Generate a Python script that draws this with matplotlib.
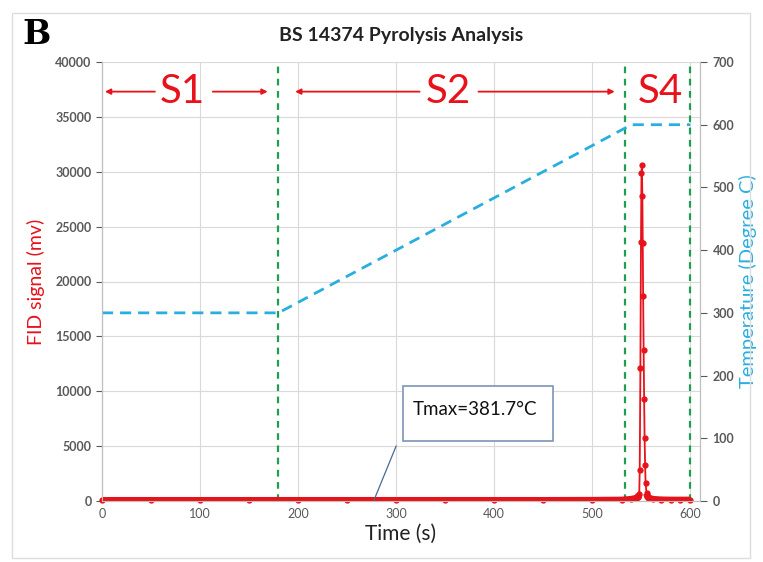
import matplotlib
matplotlib.use("Agg")
import matplotlib.pyplot as plt
from matplotlib.patches import Rectangle
import numpy as np

# ---- data ----
fid_time = [0, 50, 100, 150, 200, 250, 300, 350, 400, 450, 500, 530, 540, 545,
            547, 548.0, 548.5, 549.2, 549.8, 550.3, 550.7, 551.2, 551.6, 552.0,
            552.5, 553.0, 553.5, 554.0, 554.5, 555.5, 556.5, 558, 562, 570, 580, 590, 600]
fid_signal = [50, 50, 50, 50, 50, 50, 50, 50, 50, 50, 60, 80, 150, 250,
              350, 600, 2800, 12100, 23600, 29900, 30600, 27800, 23500, 18700,
              13800, 9300, 5700, 3300, 1600, 700, 400, 250, 150, 100, 80, 80, 80]

temp_time = [0, 180, 540, 600]
temp_deg = [300, 300, 600, 600]

stage_bounds = [180, 533, 600]
stage_labels = ["S1", "S2", "S4"]
stage_label_x = [82, 353, 570]

tmax_text = "Tmax=381.7°C"

xticks = [0, 100, 200, 300, 400, 500, 600]
yticks = [0, 5000, 10000, 15000, 20000, 25000, 30000, 35000, 40000]
y2ticks = [0, 100, 200, 300, 400, 500, 600, 700]

# ---- style ----
plt.rcParams['font.family'] = ['Lato', 'DejaVu Sans']
RED = '#E8121B'
BLUE = '#2AAEE0'
GREEN = '#1E9E50'
GRID = '#D9D9D9'
TICK = '#595959'

fig = plt.figure(figsize=(7.63, 5.62), dpi=100)
fig.patches.append(Rectangle((12/763, 4/562), 738/763, 545/562, transform=fig.transFigure,
                             fill=False, edgecolor='#DDDDDD', lw=1))
ax = fig.add_axes([102/763, 1-501/562, 598/763, 439/562])
ax2 = ax.twinx()

ax.set_xlim(0, 610)
ax.set_ylim(0, 40000)
ax2.set_ylim(0, 700)
ax.set_xticks(xticks)
ax.set_yticks(yticks)
ax2.set_yticks(y2ticks)
ax.grid(True, color=GRID, lw=0.8)
ax.set_axisbelow(True)

for a in (ax, ax2):
    for s in ['top']:
        a.spines[s].set_visible(False)
    for s in ['left', 'right', 'bottom']:
        a.spines[s].set_color('#BFBFBF')
    a.tick_params(colors=TICK, labelsize=9, length=4, width=0.8)
    for lab in a.get_xticklabels() + a.get_yticklabels():
        lab.set_color(TICK)
ax.tick_params(axis='x', length=0, pad=5)
ax2.tick_params(axis='y', length=5, pad=4)
for lab in ax2.get_yticklabels() + ax.get_yticklabels():
    lab.set_fontweight('bold')

# temperature
ax2.plot(temp_time, temp_deg, color=BLUE, lw=2, ls=(0, (4, 2.5)), zorder=2)

# stage boundaries
for xb in stage_bounds:
    ax.axvline(xb, color=GREEN, lw=1.6, ls=(0, (3, 2.5)), zorder=3)

# FID signal
ft = np.array(fid_time)
fs = np.array(fid_signal)
ax.plot(ft, fs, color=RED, lw=1.3, marker='o', ms=3.5, zorder=4, clip_on=False)
ax.plot(ft[ft <= 548], fs[ft <= 548], color=RED, lw=5, solid_capstyle='butt', zorder=4)
ax.plot(ft[ft >= 555.5], fs[ft >= 555.5], color=RED, lw=5, solid_capstyle='butt', zorder=4)

# stage labels and arrows
for lab, xl in zip(stage_labels, stage_label_x):
    ax.text(xl, 37300, lab, color=RED, fontsize=29, ha='center', va='center', zorder=5)

arrows = [(54, 3), (113, 169), (324, 197), (384, 523)]
for x0, x1 in arrows:
    ax.annotate('', xy=(x1, 37300), xytext=(x0, 37300),
                arrowprops=dict(arrowstyle='-|>', color=RED, lw=1.3,
                                mutation_scale=8, shrinkA=0, shrinkB=0), zorder=5)

# Tmax callout
ax.add_patch(Rectangle((307, 5470), 153, 5010, facecolor='white', edgecolor='#7A95B5',
                       lw=1.2, zorder=5))
ax.text(317, 8300, tmax_text, fontsize=13.5, color='#111111', va='center', ha='left', zorder=6)
ax.plot([300, 277.5], [5000, 90], color='#4A6A8F', lw=0.9, zorder=6)

# labels
ax.set_xlabel('Time (s)', fontsize=15, color='#222222', labelpad=3)
ax.set_ylabel('FID signal (mv)', fontsize=14, color=RED, labelpad=7)
ax2.set_ylabel('Temperature (Degree C)', fontsize=14.5, color=BLUE, labelpad=3)

fig.text(401/763, 1-35/562, 'BS 14374 Pyrolysis Analysis', fontsize=14, fontweight='bold',
         ha='center', va='center', color='#222222')
fig.text(22/763, 1-34/562, 'B', fontsize=24, fontweight='bold', family='DejaVu Serif',
         ha='left', va='center', color='black')

fig.savefig('out.png', dpi=100)
